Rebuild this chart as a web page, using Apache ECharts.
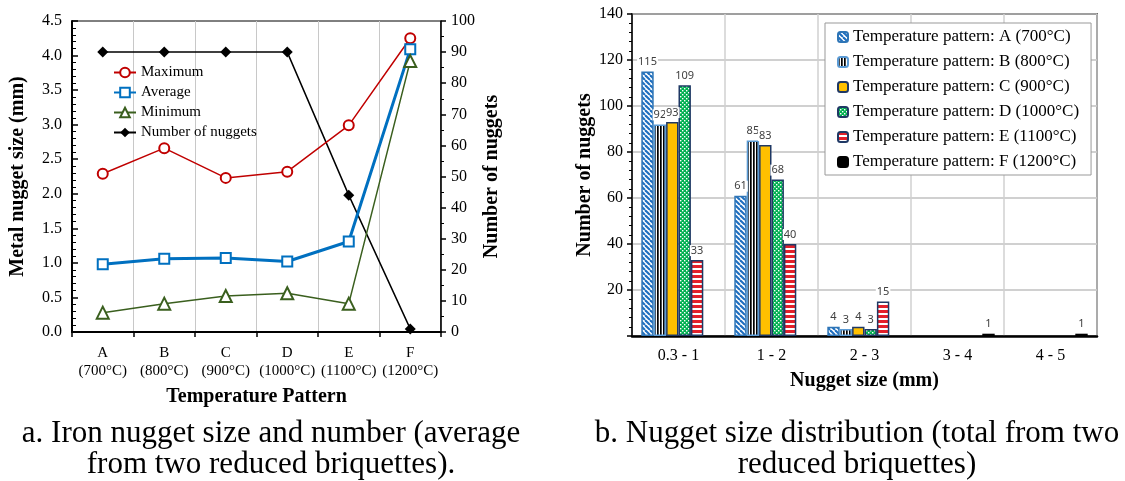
<!DOCTYPE html>
<html>
<head>
<meta charset="utf-8">
<script src="https://cdn.jsdelivr.net/npm/echarts@6/dist/echarts.min.js"></script>
<style>html,body{margin:0;padding:0;background:#fff;}#c{width:1125px;height:481px;}</style>
</head>
<body>
<div id="c"></div>
<script>
// ---- Data: chart a ----
const tempCats = ['A\n(700°C)', 'B\n(800°C)', 'C\n(900°C)', 'D\n(1000°C)', 'E\n(1100°C)', 'F\n(1200°C)'];
const maxSize = [2.29, 2.66, 2.23, 2.32, 2.99, 4.25];
const avgSize = [0.98, 1.06, 1.07, 1.02, 1.31, 4.09];
const minSize = [0.28, 0.41, 0.52, 0.56, 0.41, 3.92];
const nuggetCount = [90, 90, 90, 90, 44, 1];

// ---- Data: chart b ----
const sizeCats = ['0.3 - 1', '1 - 2', '2 - 3', '3 - 4', '4 - 5'];
const patternNames = ['Temperature pattern: A (700°C)', 'Temperature pattern: B (800°C)', 'Temperature pattern: C (900°C)',
  'Temperature pattern: D (1000°C)', 'Temperature pattern: E (1100°C)', 'Temperature pattern: F (1200°C)'];
const countA = [115, 61, 4, 0, 0];
const countB = [92, 85, 3, 0, 0];
const countC = [93, 83, 4, 0, 0];
const countD = [109, 68, 3, 0, 0];
const countE = [33, 40, 15, 0, 0];
const countF = [0, 0, 0, 1, 1];

const serif = 'Liberation Serif';

function pat(w, h, draw) {
  const c = document.createElement('canvas');
  c.width = w; c.height = h;
  const g = c.getContext('2d');
  draw(g, w, h);
  return { image: c, repeat: 'repeat' };
}
const fillA = pat(5, 5, (g, w, h) => {
  g.fillStyle = '#fff'; g.fillRect(0, 0, w, h);
  g.strokeStyle = '#1F6FC0'; g.lineWidth = 2.1;
  for (const k of [-5, 0, 5]) { g.beginPath(); g.moveTo(k, 0); g.lineTo(k + 5, 5); g.stroke(); }
});
const fillB = pat(3, 4, (g, w, h) => {
  g.fillStyle = '#fff'; g.fillRect(0, 0, w, h);
  g.fillStyle = '#000'; g.fillRect(0, 0, 1.7, h);
});
const fillD = pat(4, 4, (g, w, h) => {
  g.fillStyle = '#00B050'; g.fillRect(0, 0, w, h);
  g.fillStyle = '#fff'; g.fillRect(0, 0, 1.4, 1.4); g.fillRect(2, 2, 1.4, 1.4);
});
const fillE = pat(4, 5, (g, w, h) => {
  g.fillStyle = '#fff'; g.fillRect(0, 0, w, h);
  g.fillStyle = '#E3202B'; g.fillRect(0, 0, w, 3);
});
const barFills = [fillA, fillB, '#FFC000', fillD, fillE, '#000'];
const barBorders = ['#2E75B6', '#5B9BD5', '#1F3864', '#1F3864', '#1F3864', '#000'];
const barData = [countA, countB, countC, countD, countE, countF];

const chart = echarts.init(document.getElementById('c'), null, { renderer: 'canvas' });

const grey = '#C8C8C8';
const option = {
  animation: false,
  backgroundColor: '#fff',
  textStyle: { fontFamily: serif, color: '#000' },
  grid: [
    { left: 72, right: 684, top: 21, bottom: 149, show: true, borderColor: '#000', borderWidth: 1, containLabel: false },
    { left: 632, right: 28, top: 14, bottom: 145, show: true, borderColor: '#000', borderWidth: 1.5, containLabel: false }
  ],
  legend: [
    {
      left: 113, top: 65, orient: 'vertical', itemWidth: 22, itemHeight: 12, itemGap: 5,
      padding: 0,
      textStyle: { fontFamily: serif, fontSize: 15, color: '#000' },
      data: ['Maximum', 'Average', 'Minimum', 'Number of nuggets']
    },
    {
      left: 825, top: 23, width: 262, orient: 'vertical', itemWidth: 10, itemHeight: 10, itemGap: 7,
      padding: [5, 12, 4, 12],
      backgroundColor: '#fff', borderColor: '#999', borderWidth: 1,
      textStyle: { fontFamily: serif, fontSize: 17, color: '#000', lineHeight: 18 },
      data: patternNames
    }
  ],
  xAxis: [
    {
      gridIndex: 0, type: 'category', data: tempCats, boundaryGap: true,
      axisLine: { lineStyle: { color: '#000', width: 2 } },
      axisTick: { show: true, inside: false, length: 5, lineStyle: { color: '#000', width: 1.5 } },
      axisLabel: { fontFamily: serif, fontSize: 15, color: '#000', lineHeight: 18, margin: 12, interval: 0 },
      splitLine: { show: true, lineStyle: { color: grey, width: 1 } },
      name: 'Temperature Pattern', nameLocation: 'middle', nameGap: 55,
      nameTextStyle: { fontFamily: serif, fontSize: 20, fontWeight: 'bold', color: '#000' }
    },
    {
      gridIndex: 1, type: 'category', data: sizeCats, boundaryGap: true,
      axisLine: { lineStyle: { color: '#000', width: 2.5 } },
      axisTick: { show: false },
      axisLabel: { fontFamily: serif, fontSize: 16, color: '#000', margin: 12, interval: 0 },
      splitLine: { show: true, lineStyle: { color: '#D0D0D0', width: 1.5 } },
      name: 'Nugget size (mm)', nameLocation: 'middle', nameGap: 35,
      nameTextStyle: { fontFamily: serif, fontSize: 20, fontWeight: 'bold', color: '#000' }
    }
  ],
  yAxis: [
    {
      gridIndex: 0, type: 'value', min: 0, max: 4.5, interval: 0.5, position: 'left',
      axisLine: { show: true, lineStyle: { color: '#000', width: 2 } },
      axisTick: { show: true, inside: true, length: 6, lineStyle: { color: '#000', width: 1.5 } },
      minorTick: { show: true, splitNumber: 5, length: 4, lineStyle: { color: '#000', width: 1 } },
      axisLabel: { fontFamily: serif, fontSize: 16, color: '#000', formatter: v => v.toFixed(1), margin: 10 },
      splitLine: { show: false },
      name: 'Metal nugget size (mm)', nameLocation: 'middle', nameGap: 44, nameRotate: 90,
      nameTextStyle: { fontFamily: serif, fontSize: 20, fontWeight: 'bold', color: '#000' }
    },
    {
      gridIndex: 0, type: 'value', min: 0, max: 100, interval: 10, position: 'right',
      axisLine: { show: true, lineStyle: { color: '#000', width: 1.5 } },
      axisTick: { show: true, inside: false, length: 5, lineStyle: { color: '#000', width: 1.5 } },
      minorTick: { show: true, splitNumber: 2, length: 3, lineStyle: { color: '#000', width: 1 } },
      axisLabel: { fontFamily: serif, fontSize: 16, color: '#000', margin: 10 },
      splitLine: { show: false },
      name: 'Number of nuggets', nameLocation: 'middle', nameGap: 41, nameRotate: 90,
      nameTextStyle: { fontFamily: serif, fontSize: 20, fontWeight: 'bold', color: '#000' }
    },
    {
      gridIndex: 1, type: 'value', min: 0, max: 140, interval: 20,
      axisLine: { show: true, lineStyle: { color: '#000', width: 1.5 } },
      axisTick: { show: true, inside: false, length: 5, lineStyle: { color: '#000', width: 1.5 } },
      minorTick: { show: true, splitNumber: 5, length: 3, lineStyle: { color: '#000', width: 1 } },
      axisLabel: { fontFamily: serif, fontSize: 16, color: '#000', margin: 9, formatter: v => v === 0 ? '' : String(v) },
      splitLine: { show: true, lineStyle: { color: '#C0C0C0', width: 1.5 } },
      name: 'Number of nuggets', nameLocation: 'middle', nameGap: 37, nameRotate: 90,
      nameTextStyle: { fontFamily: serif, fontSize: 20, fontWeight: 'bold', color: '#000' }
    }
  ],
  graphic: [
    {
      type: 'text', z: 100, x: 0, y: 0,
      style: {
        text: 'a. Iron nugget size and number (average\nfrom two reduced briquettes).',
        x: 271, y: 418, textAlign: 'center', textVerticalAlign: 'top',
        font: '31px "Liberation Serif"', lineHeight: 31, fill: '#000'
      }
    },
    {
      type: 'text', z: 100, x: 0, y: 0,
      style: {
        text: 'b. Nugget size distribution (total from two\nreduced briquettes)',
        x: 857, y: 418, textAlign: 'center', textVerticalAlign: 'top',
        font: '31px "Liberation Serif"', lineHeight: 31, fill: '#000'
      }
    }
  ],
  series: [
    {
      name: 'Maximum', type: 'line', xAxisIndex: 0, yAxisIndex: 0, data: maxSize,
      symbol: 'emptyCircle', symbolSize: 10, lineStyle: { color: '#C00000', width: 1.5 },
      itemStyle: { color: '#C00000', borderWidth: 1.5 }, z: 4
    },
    {
      name: 'Average', type: 'line', xAxisIndex: 0, yAxisIndex: 0, data: avgSize,
      symbol: 'emptyRect', symbolSize: 10, lineStyle: { color: '#0070C0', width: 3 },
      itemStyle: { color: '#0070C0', borderWidth: 1.5 }, z: 4
    },
    {
      name: 'Minimum', type: 'line', xAxisIndex: 0, yAxisIndex: 0, data: minSize,
      symbol: 'emptyTriangle', symbolSize: 12, lineStyle: { color: '#3A5F1E', width: 1.5 },
      itemStyle: { color: '#3A5F1E', borderWidth: 1.5 }, z: 4
    },
    {
      name: 'Number of nuggets', type: 'line', xAxisIndex: 0, yAxisIndex: 1, data: nuggetCount,
      symbol: 'diamond', symbolSize: 11, lineStyle: { color: '#000', width: 1.5 },
      itemStyle: { color: '#000' }, z: 3
    }
  ].concat(patternNames.map((nm, i) => ({
    name: nm, type: 'bar', xAxisIndex: 1, yAxisIndex: 2,
    data: barData[i].map(v => (v === 0 ? null : v)),
    barGap: '0%', barCategoryGap: '20%',
    itemStyle: { color: barFills[i], borderColor: barBorders[i], borderWidth: 1.5 },
    label: {
      show: true, position: 'top', distance: 4, fontFamily: 'Noto Sans', fontSize: 11, color: '#404040',
      backgroundColor: '#fff', padding: [0, 1],
      formatter: p => (p.value ? String(p.value) : '')
    }
  })))
};
chart.setOption(option);
</script>
</body>
</html>
